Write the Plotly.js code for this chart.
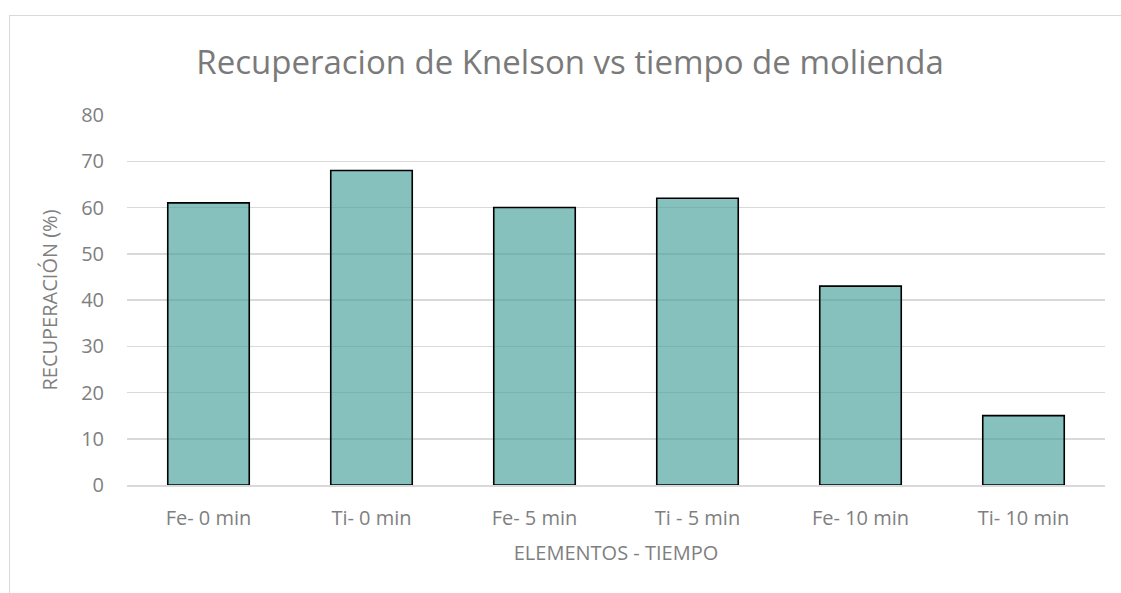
<!DOCTYPE html>
<html>
<head>
<meta charset="utf-8">
<script src="https://cdn.plot.ly/plotly-3.0.1.min.js"></script>
<style>
html,body{margin:0;padding:0;background:#fff;}
#wrap{position:relative;width:1121px;height:593px;overflow:hidden;}
#frame{position:absolute;left:9px;top:15px;width:1200px;height:700px;border-left:1px solid #d9d9d9;border-top:1px solid #d9d9d9;pointer-events:none;}
#chart{position:absolute;left:0;top:0;width:1121px;height:593px;}
</style>
</head>
<body>
<div id="wrap">
<div id="chart"></div>
<div id="frame"></div>
</div>
<script>
const categories = ["Fe- 0 min", "Ti- 0 min", "Fe- 5 min", "Ti - 5 min", "Fe- 10 min", "Ti- 10 min"];
const recovery = [61, 68, 60, 62, 43, 15];
const yTicks = [0, 10, 20, 30, 40, 50, 60, 70, 80];

const font = "'Open Sans', sans-serif";
const trace = {
  type: "bar",
  x: categories,
  y: recovery,
  width: 0.5,
  marker: {
    color: "rgba(70,160,155,0.65)",
    line: {color: "#000000", width: 1.6}
  },
  hoverinfo: "x+y"
};

const layout = {
  width: 1121,
  height: 593,
  margin: {l: 127, r: 16, t: 115, b: 108, pad: 0},
  paper_bgcolor: "rgba(0,0,0,0)",
  plot_bgcolor: "rgba(0,0,0,0)",
  showlegend: false,
  bargap: 0.5,
  title: {
    text: "Recuperacion de Knelson vs tiempo de molienda",
    font: {family: font, size: 33, color: "#7a7a7a"},
    x: 0.5085, xref: "container", xanchor: "center",
    y: 0.895, yref: "container", yanchor: "middle"
  },
  xaxis: {
    type: "category",
    showgrid: false,
    showline: true,
    linecolor: "#d9d9d9",
    linewidth: 1.5,
    ticks: "outside",
    ticklen: 14,
    tickcolor: "rgba(0,0,0,0)",
    tickfont: {family: font, size: 20, color: "#7f7f7f"},
    title: {text: "ELEMENTOS - TIEMPO", font: {family: font, size: 20, color: "#7f7f7f"}, standoff: 16}
  },
  yaxis: {
    range: [0, 80],
    tickvals: yTicks,
    ticktext: yTicks.map(String),
    showgrid: true,
    gridcolor: "#d9d9d9",
    gridwidth: 1.5,
    zeroline: false,
    showline: false,
    ticks: "outside",
    ticklen: 18,
    tickcolor: "rgba(0,0,0,0)",
    tickfont: {family: font, size: 20, color: "#7f7f7f"},
    title: {text: "RECUPERACIÓN (%)", font: {family: font, size: 20, color: "#7f7f7f"}, standoff: 18}
  }
};

Plotly.newPlot("chart", [trace], layout, {displayModeBar: false, staticPlot: true});
</script>
</body>
</html>
